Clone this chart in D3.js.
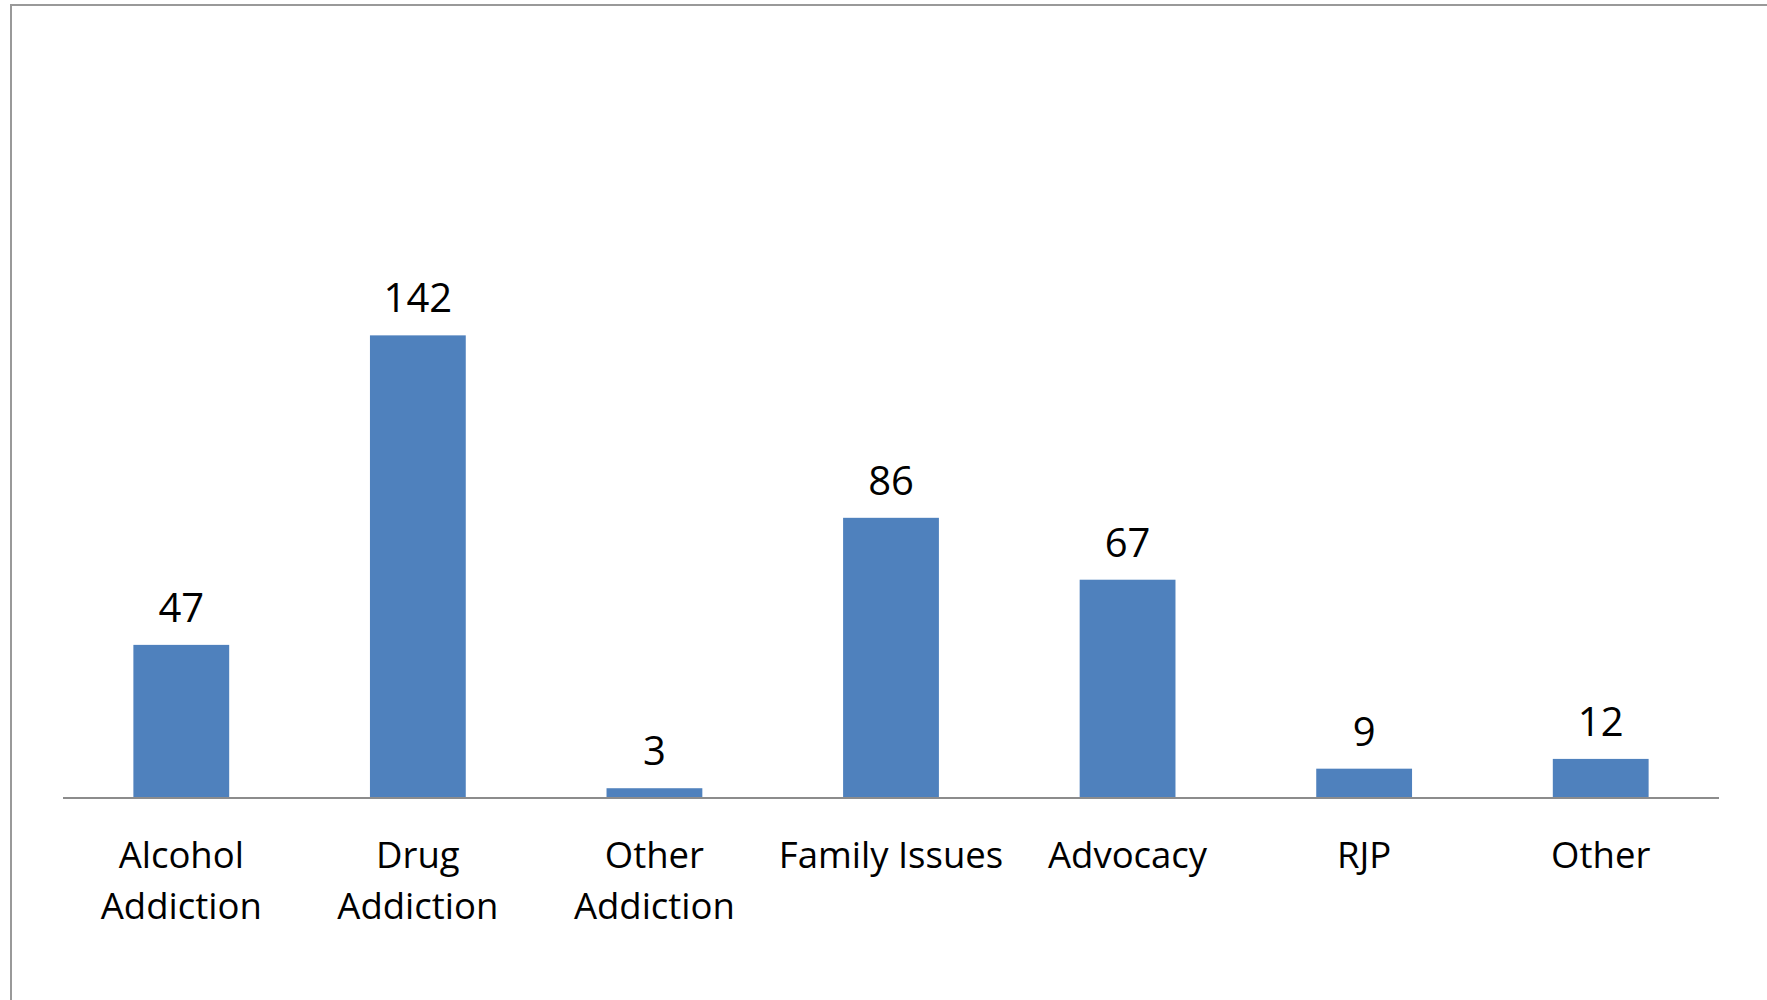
<!DOCTYPE html>
<html><head><meta charset="utf-8">
<script src="https://cdn.jsdelivr.net/npm/d3@7"></script>
<style>html,body{margin:0;padding:0;background:#fff;}svg{display:block;}</style>
</head><body>
<svg id="chart" width="1767" height="1000"></svg>
<script>
const categories = [["Alcohol","Addiction"],["Drug","Addiction"],["Other","Addiction"],["Family Issues"],["Advocacy"],["RJP"],["Other"]];
const values = [47, 142, 3, 86, 67, 9, 12];

const svg = d3.select("#chart");
const W = 1767, H = 1000;
const font = "'Open Sans', sans-serif";

// outer frame (top & left visible)
svg.append("path").attr("d", `M11,${H} L11,5 L${W},5`).attr("fill","none").attr("stroke","#999").attr("stroke-width",2);

const x0 = 63, x1 = 1719, yBase = 798;
const idx = d3.range(values.length);
const x = d3.scaleBand().domain(idx).range([x0, x1]).paddingInner(0.595).paddingOuter(0.2975);
const y = d3.scaleLinear().domain([0, 160]).range([yBase, yBase - 160 * 3.258]);

svg.selectAll("rect.bar").data(idx).join("rect").attr("class","bar")
  .attr("x", i => x(i)).attr("width", x.bandwidth())
  .attr("y", i => y(values[i])).attr("height", i => y(0) - y(values[i]))
  .attr("fill", "#4f81bd");

// axis line
svg.append("line").attr("x1", x0).attr("x2", x1).attr("y1", yBase).attr("y2", yBase)
  .attr("stroke", "#8c8c8c").attr("stroke-width", 2);

// value labels
svg.selectAll("text.val").data(idx).join("text").attr("class","val")
  .attr("x", i => x(i) + x.bandwidth()/2).attr("y", i => y(values[i]) - 23)
  .attr("text-anchor","middle").attr("font-family", font).attr("font-size", 40).attr("fill","#000")
  .text(i => values[i]);

// category labels
const cl = svg.selectAll("text.cat").data(idx).join("text").attr("class","cat")
  .attr("text-anchor","middle").attr("font-family", font).attr("font-size", 36.5).attr("fill","#000");
cl.each(function(i){
  const t = d3.select(this);
  categories[i].forEach((line, k) => {
    t.append("tspan").attr("x", x(i) + x.bandwidth()/2).attr("y", 868 + k*51).text(line);
  });
});
</script>
</body></html>
